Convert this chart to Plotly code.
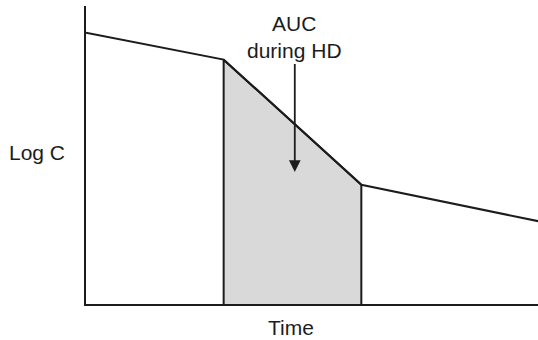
import plotly.graph_objects as go

# Concentration-time profile (log scale) with a haemodialysis (HD) session
time_h = [0, 6, 12, 20]
log_c = [2.73, 2.46, 1.20, 0.82]
hd_start, hd_end = 6, 12
label_auc = "AUC<br>during HD"
label_x = "Time"
label_y = "Log C"

ink = "#1c1c1c"
shade = "#d9d9d9"
font = dict(family="Liberation Sans, Arial, sans-serif", size=21, color=ink)

i0 = time_h.index(hd_start)
i1 = time_h.index(hd_end)

fig = go.Figure()

# shaded area under the curve during dialysis
fig.add_trace(go.Scatter(
    x=[hd_start] + time_h[i0:i1 + 1] + [hd_end],
    y=[0] + log_c[i0:i1 + 1] + [0],
    fill="toself", fillcolor=shade, mode="lines",
    line=dict(color=ink, width=2), hoverinfo="skip", showlegend=False,
))

# concentration curve
fig.add_trace(go.Scatter(
    x=time_h, y=log_c, mode="lines",
    line=dict(color=ink, width=2), showlegend=False,
))

# label and arrow pointing into the shaded area
fig.add_annotation(x=9.1, y=2.69, text=label_auc, showarrow=False,
                   font=font, align="center", xanchor="center", yanchor="middle")
fig.add_annotation(x=9.1, y=1.33, ax=9.1, ay=2.43, axref="x", ayref="y",
                   text="", showarrow=True, arrowhead=2, arrowsize=1.3,
                   arrowwidth=1.8, arrowcolor=ink)

# axis labels
fig.add_annotation(x=-0.108, y=0.51, xref="paper", yref="paper", text=label_y,
                   showarrow=False, font=font, xanchor="center", yanchor="middle")
fig.add_annotation(x=0.4535, y=-0.0805, xref="paper", yref="paper", text=label_x,
                   showarrow=False, font=font, xanchor="center", yanchor="middle")

fig.update_xaxes(range=[0, 19.7], showline=True, linecolor=ink, linewidth=2,
                 showgrid=False, zeroline=False, showticklabels=False, ticks="")
fig.update_yaxes(range=[0, 3], showline=True, linecolor=ink, linewidth=2,
                 showgrid=False, zeroline=False, showticklabels=False, ticks="")

fig.update_layout(
    width=538, height=340,
    margin=dict(l=86, r=0, t=6, b=36),
    paper_bgcolor="white", plot_bgcolor="white",
    font=font,
)

fig.write_html("out.html")
